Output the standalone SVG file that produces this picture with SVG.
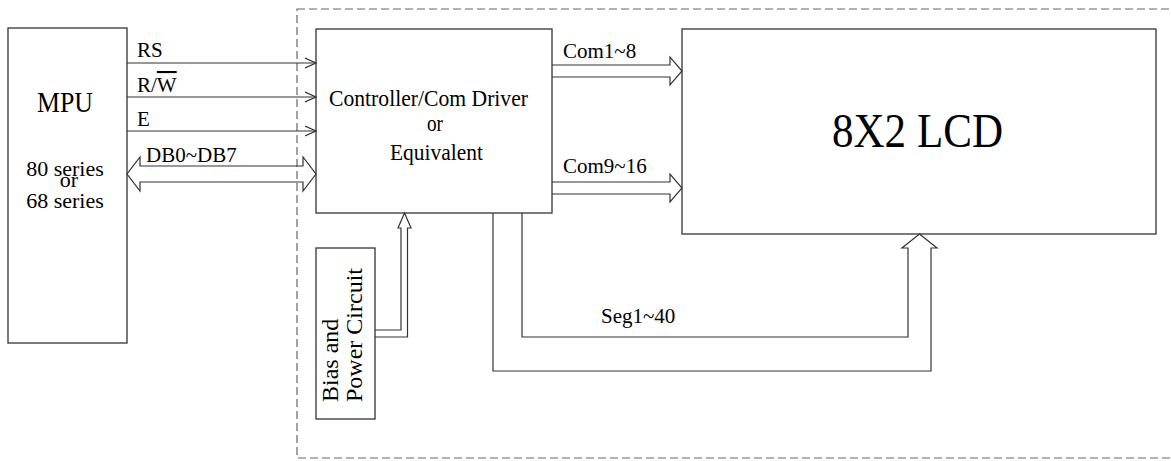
<svg xmlns="http://www.w3.org/2000/svg" width="1171" height="461" viewBox="0 0 1171 461">
<defs>
<style>
.box{fill:#fff;stroke:#333;stroke-width:1.3}
.ln{fill:none;stroke:#333;stroke-width:1.2}
.dash{fill:none;stroke:#666;stroke-width:1.2;stroke-dasharray:8 4}
text{font-family:"Liberation Serif","Times New Roman",serif;fill:#000}
.lbl{font-size:21px}
</style>
<marker id="open" viewBox="0 0 12 12" refX="11" refY="6" markerWidth="12" markerHeight="12" markerUnits="userSpaceOnUse" orient="auto">
<path d="M0,1 L11,6 L0,11" fill="none" stroke="#333" stroke-width="1.2"/>
</marker>
</defs>
<rect width="1171" height="461" fill="#fff"/>
<rect class="dash" x="297" y="9" width="890" height="449"/>

<g id="mpu">
<rect class="box" x="8" y="28" width="119" height="315"/>
<text x="37" y="112" font-size="30" textLength="56" lengthAdjust="spacingAndGlyphs">MPU</text>
<text x="65" y="176" font-size="22" text-anchor="middle">80 series</text>
<text x="69" y="187" font-size="22" text-anchor="middle">or</text>
<text x="65" y="208" font-size="22" text-anchor="middle">68 series</text>
</g>

<g id="controller">
<rect class="box" x="316" y="29" width="236" height="184"/>
<text x="329" y="106" font-size="23.5" textLength="199" lengthAdjust="spacingAndGlyphs">Controller/Com Driver</text>
<text x="427" y="131" font-size="23.5" textLength="16" lengthAdjust="spacingAndGlyphs">or</text>
<text x="390" y="160" font-size="23.5" textLength="93" lengthAdjust="spacingAndGlyphs">Equivalent</text>
</g>

<g id="lcd">
<rect class="box" x="682" y="29" width="474" height="205"/>
<text x="832" y="147" font-size="48" textLength="171" lengthAdjust="spacingAndGlyphs">8X2 LCD</text>
</g>

<g id="bias">
<rect class="box" x="316" y="248" width="59" height="171"/>
<text transform="translate(338,402) rotate(-90)" font-size="24">Bias and</text>
<text transform="translate(362,402) rotate(-90)" font-size="24">Power Circuit</text>
</g>

<g id="connectors">
<line class="ln" x1="127" y1="63" x2="316" y2="63" marker-end="url(#open)"/>
<line class="ln" x1="127" y1="97" x2="316" y2="97" marker-end="url(#open)"/>
<line class="ln" x1="127" y1="131" x2="316" y2="131" marker-end="url(#open)"/>
<path class="ln" d="M140,166 L303,166 L303,157 L316,174 L303,191 L303,182 L140,182 L140,191 L127,174 L140,157 Z"/>
<path class="ln" d="M552,65 L670,65 L670,57 L682,71 L670,85 L670,77 L552,77"/>
<path class="ln" d="M552,182 L670,182 L670,174 L682,188 L670,202 L670,194 L552,194"/>
<path class="ln" d="M375,330 L401,330 L401,228 L398,228 L404.5,213 L411,228 L407.5,228 L407.5,337 L375,337"/>
<path class="ln" d="M522,213 L522,337 L908,337 L908,248 L902,248 L919.5,234 L937,248 L931,248 L931,371 L493,371 L493,213"/>
<text class="lbl" x="137" y="57">RS</text>
<text class="lbl" x="137" y="92">R/<tspan style="text-decoration:overline">W</tspan></text>
<text class="lbl" x="137" y="126">E</text>
<text class="lbl" x="146" y="162">DB0~DB7</text>
<text class="lbl" x="563" y="58">Com1~8</text>
<text class="lbl" x="563" y="173">Com9~16</text>
<text class="lbl" x="601" y="323">Seg1~40</text>
</g>
</svg>
